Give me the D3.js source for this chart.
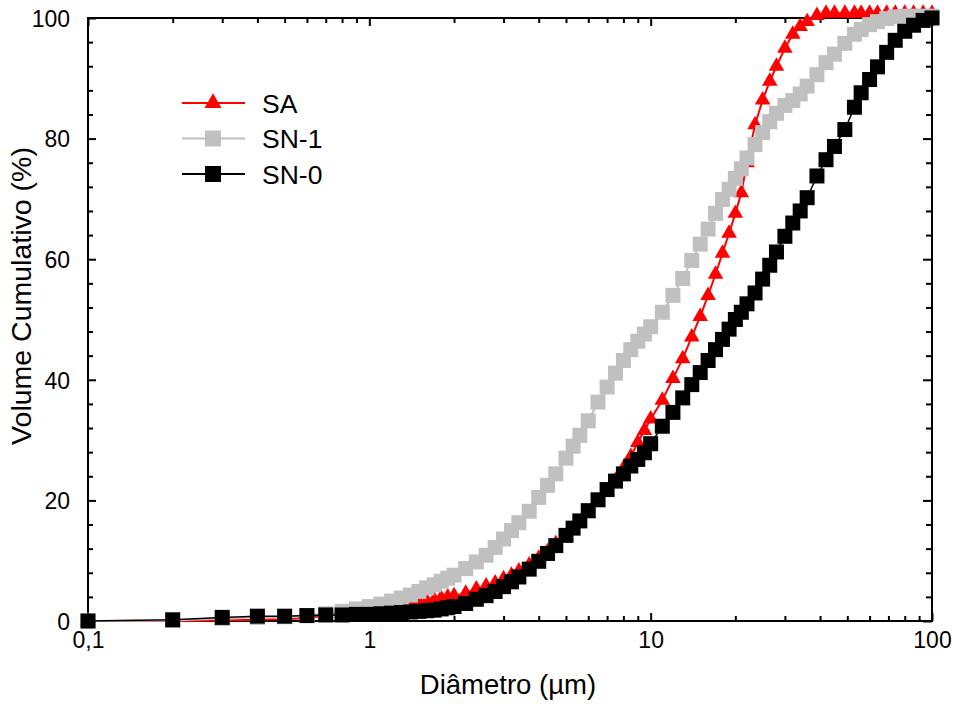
<!DOCTYPE html>
<html>
<head>
<meta charset="utf-8">
<script src="https://d3js.org/d3.v7.min.js"></script>
<style>
  body { margin: 0; background: #fff; }
  svg text { font-family: "Liberation Sans", Arial, sans-serif; fill: #000; }
</style>
</head>
<body>
<svg id="chart"></svg>
<script>
// particle size classes (µm)
const diameters = [
  0.1, 0.2, 0.3, 0.4, 0.5, 0.6, 0.7, 0.8, 0.9, 1.0,
  1.1, 1.2, 1.3, 1.4, 1.5, 1.6, 1.7, 1.8, 1.9, 2.0,
  2.2, 2.4, 2.6, 2.8, 3.0, 3.2, 3.4, 3.7, 4.0, 4.3,
  4.6, 5.0, 5.3, 5.6, 6.0, 6.5, 7.0, 7.5, 8.0, 8.5,
  9.0, 9.5, 10, 11, 12, 13, 14, 15, 16, 17,
  18, 19, 20, 21, 22, 23.5, 25, 26.5, 28, 30,
  32, 34, 36, 39, 42, 45, 49, 53, 56, 60,
  64, 69, 74, 80, 86, 93, 100
]

// cumulative volume (%)
const saValues = [
  0.0, 0.0, 0.1, 0.2, 0.3, 0.5, 0.9, 1.3, 1.6, 1.9,
  2.2, 2.5, 2.7, 2.9, 3.1, 3.3, 3.5, 3.8, 4.0, 4.2,
  4.6, 5.3, 5.8, 6.3, 7.0, 7.6, 8.3, 9.3, 10.4, 11.5,
  12.8, 14.0, 15.2, 16.3, 17.8, 19.8, 21.6, 23.3, 25.3, 27.3,
  29.6, 31.6, 33.5, 36.6, 40.2, 43.5, 47.1, 50.5, 54.0, 57.5,
  61.0, 64.3, 67.6, 71.0, 76.0, 82.3, 86.4, 89.5, 92.0, 95.0,
  97.3, 98.6, 99.4, 100.4, 100.8, 100.8, 100.8, 100.8, 100.8, 100.8,
  100.8, 100.8, 100.8, 100.8, 100.8, 100.8, 100.8
]
const sn1Values = [
  0.0, 0.1, 0.4, 0.6, 0.7, 0.9, 1.2, 1.6, 2.0, 2.4,
  2.8, 3.3, 3.8, 4.3, 4.9, 5.5, 6.0, 6.6, 7.1, 7.6,
  8.7, 9.8, 10.9, 12.2, 13.6, 15.0, 16.3, 18.2, 20.5, 22.5,
  24.4, 27.0, 29.0, 30.8, 33.2, 36.3, 38.8, 41.1, 43.2, 45.0,
  46.4, 47.6, 48.8, 51.2, 54.0, 56.8, 59.8, 62.5, 65.0, 67.6,
  69.9, 71.6, 73.4, 75.0, 76.8, 79.0, 81.0, 82.8, 84.2, 85.5,
  86.3, 87.4, 88.7, 90.6, 92.6, 94.0, 95.8, 97.3, 98.1, 98.9,
  99.4, 99.9, 100.2, 100.3, 100.3, 100.3, 100.3
]
const sn0Values = [
  0.0, 0.2, 0.6, 0.8, 0.8, 0.9, 1.0, 1.0, 1.1, 1.1,
  1.2, 1.3, 1.4, 1.5, 1.6, 1.7, 1.8, 2.0, 2.2, 2.4,
  2.9, 3.6, 4.2, 4.9, 5.7, 6.5, 7.3, 8.6, 9.9, 11.2,
  12.5, 14.2, 15.4, 16.6, 18.3, 20.1, 21.8, 23.2, 24.4, 25.7,
  26.8, 27.9, 29.4, 32.3, 34.6, 37.0, 39.2, 41.2, 43.2, 45.0,
  46.7, 48.4, 50.0, 51.2, 52.6, 54.4, 56.7, 59.0, 61.2, 63.8,
  66.0, 68.0, 70.2, 73.8, 76.5, 78.7, 81.5, 85.2, 87.6, 89.8,
  91.9, 94.3, 96.3, 97.8, 98.8, 99.6, 100.0
]

const seriesNames = ['SA', 'SN-1', 'SN-0']
const xTicks = [0.1, 1, 10, 100]
const xTickLabels = ['0,1', '1', '10', '100']
const yTicks = [0, 20, 40, 60, 80, 100]

const width = 953, height = 704
const margin = { left: 88, right: 21, top: 18, bottom: 83 }

const svg = d3.select('#chart').attr('width', width).attr('height', height)

const x = d3.scaleLog().domain([0.1, 100]).range([margin.left, width - margin.right])
const y = d3.scaleLinear().domain([0, 100]).range([height - margin.bottom, margin.top])

// minor ticks: 2..9 in each decade, every 4 % on y
const xMinor = []
;[0.1, 1, 10].forEach(function (dec) {
  for (let k = 2; k <= 9; k++) xMinor.push(+(dec * k).toFixed(2))
})
const yMinor = d3.range(0, 101, 4).filter(function (v) { return v % 20 !== 0 })

const x0 = x.range()[0], x1 = x.range()[1]
const y0 = y.range()[0], y1 = y.range()[1]

function tickGroup(axis, tx, ty) {
  const g = svg.append('g').attr('transform', 'translate(' + tx + ',' + ty + ')').call(axis)
  g.select('.domain').remove()
  g.selectAll('line').attr('stroke', '#000').attr('stroke-width', 2)
  return g
}

// bottom / top
tickGroup(d3.axisBottom(x).tickValues(xMinor).tickSize(-5).tickFormat(''), 0, y0)
tickGroup(d3.axisTop(x).tickValues(xMinor).tickSize(-5).tickFormat(''), 0, y1)
tickGroup(d3.axisTop(x).tickValues(xTicks).tickSize(-8).tickFormat(''), 0, y1)
const xAxis = tickGroup(
  d3.axisBottom(x).tickValues(xTicks).tickSize(-8).tickPadding(27)
    .tickFormat(function (d, i) { return xTickLabels[i] }), 0, y0)
xAxis.selectAll('text').attr('font-size', 23).attr('dy', 0)

// left / right
tickGroup(d3.axisLeft(y).tickValues(yMinor).tickSize(-5).tickFormat(''), x0, 0)
tickGroup(d3.axisRight(y).tickValues(yMinor).tickSize(-6).tickFormat(''), x1, 0)
tickGroup(d3.axisRight(y).tickValues(yTicks).tickSize(-9).tickFormat(''), x1, 0)
const yAxis = tickGroup(d3.axisLeft(y).tickValues(yTicks).tickSize(-8).tickPadding(18), x0, 0)
yAxis.selectAll('text').attr('font-size', 23).attr('dy', '0.36em')

// frame
svg.append('rect')
  .attr('x', x0).attr('y', y1)
  .attr('width', x1 - x0).attr('height', y0 - y1)
  .attr('fill', 'none').attr('stroke', '#000').attr('stroke-width', 2)

// axis titles
svg.append('text')
  .attr('x', 508).attr('y', 694)
  .attr('text-anchor', 'middle').attr('font-size', 27.5)
  .text('Diâmetro (µm)')
svg.append('text')
  .attr('transform', 'translate(31,296) rotate(-90)')
  .attr('text-anchor', 'middle').attr('font-size', 28.5)
  .text('Volume Cumulativo (%)')

// series
const series = [
  { name: seriesNames[0], values: saValues, color: '#ff0000', shape: 'triangle', lw: 2 },
  { name: seriesNames[1], values: sn1Values, color: '#c0c0c0', shape: 'square', lw: 2 },
  { name: seriesNames[2], values: sn0Values, color: '#000000', shape: 'square', lw: 1.5 }
]

function markerPath(shape) {
  if (shape === 'triangle') return d3.symbol(d3.symbolTriangle, 105)()
  return d3.symbol(d3.symbolSquare, 225)()
}

const line = d3.line()
  .x(function (d) { return x(d[0]) })
  .y(function (d) { return y(d[1]) })

series.forEach(function (s) {
  const pts = diameters.map(function (d, i) { return [d, s.values[i]] })
  const g = svg.append('g')
  g.append('path')
    .datum(pts)
    .attr('d', line)
    .attr('fill', 'none')
    .attr('stroke', s.color)
    .attr('stroke-width', s.lw)
  g.selectAll('path.mk')
    .data(pts)
    .enter()
    .append('path')
    .attr('class', 'mk')
    .attr('d', markerPath(s.shape))
    .attr('transform', function (d) { return 'translate(' + x(d[0]) + ',' + y(d[1]) + ')' })
    .attr('fill', s.color)
})

// legend
const legend = svg.append('g').attr('transform', 'translate(182,103)')
series.forEach(function (s, i) {
  const row = legend.append('g').attr('transform', 'translate(0,' + i * 35.5 + ')')
  row.append('line')
    .attr('x1', 0).attr('x2', 63).attr('y1', 0).attr('y2', 0)
    .attr('stroke', s.color).attr('stroke-width', 2)
  row.append('path')
    .attr('d', s.shape === 'triangle' ? d3.symbol(d3.symbolTriangle, 125)() : d3.symbol(d3.symbolSquare, 256)())
    .attr('transform', 'translate(31,0)')
    .attr('fill', s.color)
  row.append('text')
    .attr('x', 80).attr('y', 9.5)
    .attr('font-size', 26.5)
    .text(s.name)
})
</script>
</body>
</html>
